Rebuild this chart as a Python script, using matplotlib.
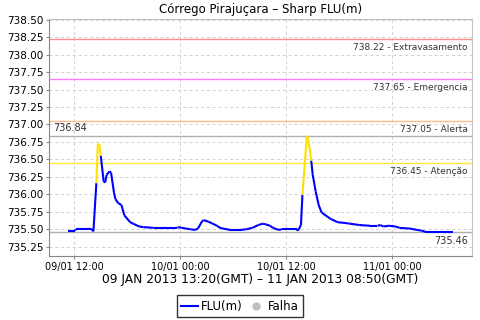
import numpy as np
import pandas as pd
import matplotlib
matplotlib.use("Agg")
import matplotlib.pyplot as plt
import matplotlib.dates as mdates
from matplotlib.lines import Line2D

# 観測データ（現地時間）
times = [
    "2013-01-09 11:20", "2013-01-09 12:05", "2013-01-09 12:10", "2013-01-09 13:30",
    "2013-01-09 13:40", "2013-01-09 13:55", "2013-01-09 14:10", "2013-01-09 14:30",
    "2013-01-09 14:40", "2013-01-09 14:50", "2013-01-09 15:00", "2013-01-09 15:20",
    "2013-01-09 15:30", "2013-01-09 15:40", "2013-01-09 16:00", "2013-01-09 16:10",
    "2013-01-09 16:30", "2013-01-09 16:40", "2013-01-09 17:00", "2013-01-09 17:20",
    "2013-01-09 17:40", "2013-01-09 18:20", "2013-01-09 18:40", "2013-01-09 19:20",
    "2013-01-09 19:50", "2013-01-09 21:00", "2013-01-09 23:40", "2013-01-09 23:50",
    "2013-01-10 00:10", "2013-01-10 00:40", "2013-01-10 01:10", "2013-01-10 01:40",
    "2013-01-10 02:00", "2013-01-10 02:30", "2013-01-10 02:40", "2013-01-10 03:10",
    "2013-01-10 03:40", "2013-01-10 04:10", "2013-01-10 04:30", "2013-01-10 04:50",
    "2013-01-10 05:40", "2013-01-10 06:50", "2013-01-10 07:30", "2013-01-10 08:10",
    "2013-01-10 08:50", "2013-01-10 09:20", "2013-01-10 09:40", "2013-01-10 10:10",
    "2013-01-10 10:30", "2013-01-10 11:10", "2013-01-10 11:30", "2013-01-10 13:10",
    "2013-01-10 13:20", "2013-01-10 13:40", "2013-01-10 13:50", "2013-01-10 14:20",
    "2013-01-10 14:30", "2013-01-10 14:50", "2013-01-10 15:00", "2013-01-10 15:20",
    "2013-01-10 15:40", "2013-01-10 16:00", "2013-01-10 17:00", "2013-01-10 17:50",
    "2013-01-10 18:40", "2013-01-10 19:10", "2013-01-10 20:20", "2013-01-10 21:30",
    "2013-01-10 22:20", "2013-01-10 22:40", "2013-01-10 23:00", "2013-01-10 23:40",
    "2013-01-11 00:20", "2013-01-11 00:50", "2013-01-11 02:00", "2013-01-11 02:50",
    "2013-01-11 03:20", "2013-01-11 03:50", "2013-01-11 06:50",
]
flu = [
    735.48, 735.48, 735.50, 735.50,
    735.51, 735.51, 735.47, 736.16,
    736.72, 736.72, 736.55, 736.18,
    736.17, 736.28, 736.33, 736.31,
    736.02, 735.93, 735.87, 735.85,
    735.70, 735.60, 735.58, 735.54,
    735.53, 735.52, 735.52, 735.53,
    735.52, 735.51, 735.50, 735.49,
    735.51, 735.62, 735.63, 735.61,
    735.58, 735.55, 735.52, 735.51,
    735.49, 735.49, 735.50, 735.52,
    735.56, 735.58, 735.57, 735.55,
    735.52, 735.49, 735.50, 735.50,
    735.48, 735.56, 735.99, 736.84,
    736.78, 736.48, 736.28, 736.04,
    735.85, 735.74, 735.65, 735.60,
    735.59, 735.58, 735.56, 735.55,
    735.55, 735.56, 735.54, 735.55,
    735.54, 735.52, 735.51, 735.49,
    735.48, 735.46, 735.46,
]

# 水位の基準線
level_values = [738.22, 737.65, 737.05, 736.45]
level_names = ["Extravasamento", "Emergencia", "Alerta", "Atenção"]
level_colors = ["#ff8c8c", "#ff7cff", "#ffbc88", "#ffe830"]
max_value = 736.84
min_value = 735.46

title = "Córrego Pirajuçara – Sharp FLU(m)"
period = "09 JAN 2013 13:20(GMT) – 11 JAN 2013 08:50(GMT)"

t = pd.to_datetime(times)
x = mdates.date2num(t)
y = np.array(flu)

fig = plt.figure(figsize=(4.8, 3.2), dpi=100)
ax = fig.add_axes([0.102, 0.2, 0.881, 0.7406])

# 基準線とラベル
for v, name, c in zip(level_values, level_names, level_colors):
    ax.axhline(v, color=c, lw=1.0, zorder=2)
    ax.annotate("%.2f - %s" % (v, name), xy=(1, v), xycoords=("axes fraction", "data"),
                xytext=(-3, -3), textcoords="offset points", ha="right", va="top",
                fontsize=6.5, color="#333333")
ax.axhline(max_value, color="#b0b0b0", lw=1.0, zorder=2)
ax.annotate("%.2f" % max_value, xy=(0, max_value), xycoords=("axes fraction", "data"),
            xytext=(3, 2), textcoords="offset points", ha="left", va="bottom",
            fontsize=7, color="#333333")
ax.axhline(min_value, color="#b0b0b0", lw=1.0, zorder=2)
ax.annotate("%.2f" % min_value, xy=(1, min_value), xycoords=("axes fraction", "data"),
            xytext=(-3, -3), textcoords="offset points", ha="right", va="top",
            fontsize=7, color="#333333")

# 線の色は各区間の終点の値で決める（注意水位を超えたら黄色）
for i in range(1, len(x)):
    c = "#ffe000" if y[i] > level_values[3] else "#0000ff"
    ax.plot(x[i-1:i+1], y[i-1:i+1], color=c, lw=1.5, solid_capstyle="butt", zorder=3)

ax.set_xlim(mdates.date2num(pd.Timestamp("2013-01-09 09:08")),
            mdates.date2num(pd.Timestamp("2013-01-11 09:01")))
ax.set_ylim(735.117, 738.51)
ax.set_yticks(np.arange(735.25, 738.51, 0.25))
ax.yaxis.set_major_formatter(plt.FormatStrFormatter("%.2f"))
ax.xaxis.set_major_locator(mdates.HourLocator(byhour=[0, 12]))
ax.xaxis.set_major_formatter(mdates.DateFormatter("%d/%m %H:%M"))
ax.tick_params(axis="y", labelsize=7.5, length=2, color="#888888", pad=2)
ax.tick_params(axis="x", labelsize=7, length=2, color="#888888", pad=2)
ax.grid(True, color="#d0d0d0", ls=(0, (3, 3)), lw=0.7)
for s in ax.spines.values():
    s.set_color("#c0c0c0")
ax.spines["left"].set_color("#888888")
ax.spines["bottom"].set_color("#888888")

ax.set_title(title, fontsize=8.5, pad=4)
ax.set_xlabel(period, fontsize=8.8, labelpad=1)

# 凡例
handles = [Line2D([], [], color="#0000ff", lw=1.5),
           Line2D([], [], marker="o", ls="", color="#c0c0c0", markersize=5)]
fig.legend(handles, ["FLU(m)", "Falha"], loc="lower center", bbox_to_anchor=(0.5, 0.008),
           ncol=2, fontsize=8.5, frameon=True, fancybox=False, edgecolor="black",
           handlelength=1.4, handletextpad=0.3, columnspacing=0.4, borderpad=0.4,
           borderaxespad=0)

fig.savefig("out.png", dpi=100)
